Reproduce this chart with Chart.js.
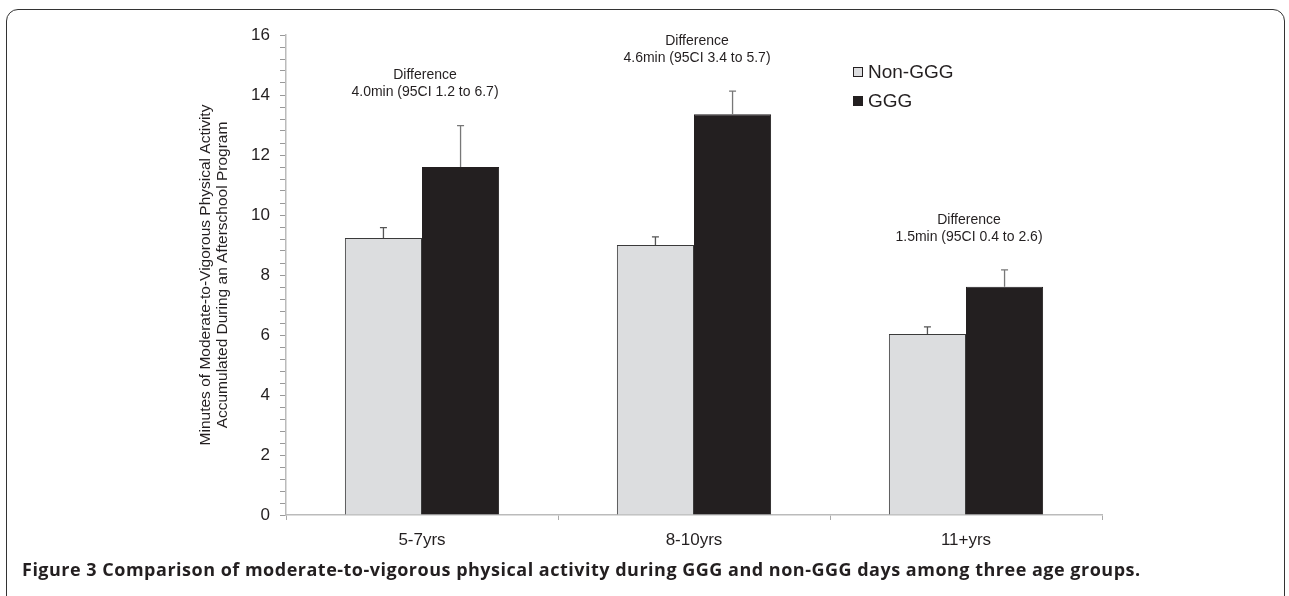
<!DOCTYPE html>
<html>
<head>
<meta charset="utf-8">
<script src="https://cdn.jsdelivr.net/npm/chart.js@4.4.0/dist/chart.umd.min.js"></script>
<style>
  html, body { margin: 0; padding: 0; background: #fff; }
  #wrap { position: relative; width: 1289px; height: 596px; overflow: hidden; }
  #frame { position: absolute; left: 6px; top: 9px; width: 1279px; height: 600px;
           border: 1.5px solid #333; border-radius: 12px; box-sizing: border-box; }
  #chart { position: absolute; left: 0; top: 0; }
  #caption { position: absolute; left: 22px; top: 557px; font-family: "Open Sans", sans-serif;
             font-weight: bold; font-size: 18px; letter-spacing: 0.5px; color: #231f20; white-space: nowrap; }
</style>
</head>
<body>
<div id="wrap">
  <div id="frame"></div>
  <canvas id="chart" width="1289" height="596"></canvas>
  <div id="caption">Figure 3 Comparison of moderate-to-vigorous physical activity during GGG and non-GGG days among three age groups.</div>
</div>
<script>
const categories = ["5-7yrs", "8-10yrs", "11+yrs"];
const nonGGG = [9.23, 9.0, 6.03];
const nonGGGErr = [0.35, 0.27, 0.24];
const ggg = [11.6, 13.36, 7.61];
const gggErr = [1.38, 0.77, 0.56];
const diffLabels = [
  ["Difference", "4.0min (95CI 1.2 to 6.7)"],
  ["Difference", "4.6min (95CI 3.4 to 5.7)"],
  ["Difference", "1.5min (95CI 0.4 to 2.6)"]
];
const yTitle = ["Minutes of Moderate-to-Vigorous Physical Activity", "Accumulated During an Afterschool Program"];
const legendLabels = ["Non-GGG", "GGG"];

const FONT = "'Liberation Sans', Arial, sans-serif";

const errorBars = {
  id: 'errorBars',
  afterDatasetsDraw(chart) {
    const ctx = chart.ctx;
    const y = chart.scales.y;
    const errs = [nonGGGErr, gggErr];
    const colors = ['#555', '#777'];
    chart.data.datasets.forEach((ds, i) => {
      const meta = chart.getDatasetMeta(i);
      meta.data.forEach((bar, j) => {
        const top = y.getPixelForValue(ds.data[j] + errs[i][j]);
        ctx.save();
        ctx.strokeStyle = colors[i];
        ctx.lineWidth = 1.3;
        ctx.beginPath();
        ctx.moveTo(bar.x, bar.y);
        ctx.lineTo(bar.x, top);
        ctx.moveTo(bar.x - 3.5, top);
        ctx.lineTo(bar.x + 3.5, top);
        ctx.stroke();
        ctx.restore();
      });
    });
  }
};

const annotations = {
  id: 'annotations',
  afterDraw(chart) {
    const ctx = chart.ctx;
    const x = chart.scales.x, y = chart.scales.y;
    ctx.save();
    ctx.font = "14px " + FONT;
    ctx.fillStyle = '#231f20';
    ctx.textAlign = 'center';
    ctx.textBaseline = 'middle';
    diffLabels.forEach((lines, j) => {
      const maxTop = Math.max(nonGGG[j] + nonGGGErr[j], ggg[j] + gggErr[j]);
      const py = y.getPixelForValue(maxTop);
      const px = x.getPixelForValue(j) + 3;
      ctx.fillText(lines[1], px, py - 33);
      ctx.fillText(lines[0], px, py - 50);
    });
    // legend
    const lx = 853, ly = [72, 101];
    const fills = ['#dcdddf', '#231f20'];
    ctx.textAlign = 'left';
    ctx.font = "19px " + FONT;
    legendLabels.forEach((t, i) => {
      ctx.fillStyle = fills[i];
      ctx.fillRect(lx, ly[i] - 5, 10, 10);
      ctx.strokeStyle = '#231f20';
      ctx.lineWidth = 1;
      ctx.strokeRect(lx + 0.5, ly[i] - 4.5, 9, 9);
      ctx.fillStyle = '#231f20';
      ctx.fillText(t, lx + 15, ly[i] + 1);
    });
    ctx.restore();
  }
};

new Chart(document.getElementById('chart'), {
  type: 'bar',
  data: {
    labels: categories,
    datasets: [
      { label: legendLabels[0], data: nonGGG, backgroundColor: '#dcdddf', borderColor: '#3a3a3a', borderWidth: 1 },
      { label: legendLabels[1], data: ggg, backgroundColor: '#231f20', borderColor: '#231f20', borderWidth: 1 }
    ]
  },
  plugins: [errorBars, annotations],
  options: {
    responsive: false,
    animation: false,
    devicePixelRatio: 1,
    layout: { padding: { left: 0, top: 35, right: 187, bottom: 40 } },
    plugins: { legend: { display: false }, tooltip: { enabled: false } },
    datasets: { bar: { categoryPercentage: 0.567, barPercentage: 1.0 } },
    scales: {
      x: {
        afterFit(s) { s.height = 41; },
        grid: { display: true, drawOnChartArea: false, offset: true, color: '#aaa', tickLength: 5 },
        border: { color: '#bbb', width: 1.5 },
        ticks: { color: '#231f20', font: { family: FONT, size: 17 }, padding: 10 }
      },
      y: {
        min: 0, max: 16,
        afterFit(s) { s.width = 286; },
        grid: { display: true, drawOnChartArea: false, color: '#999', tickLength: 6 },
        border: { color: '#bbb', width: 1.5 },
        ticks: {
          stepSize: 0.4,
          autoSkip: false,
          color: '#231f20',
          font: { family: FONT, size: 17 },
          padding: 10,
          callback(v) {
            const h = v / 2;
            return Math.abs(h - Math.round(h)) < 1e-6 ? String(Math.round(v)) : '';
          }
        },
        title: {
          display: true,
          text: yTitle,
          color: '#231f20',
          font: { family: FONT, size: 15.5, lineHeight: 1.05 },
          padding: { top: 198, bottom: 0 }
        }
      }
    }
  }
});
</script>
</body>
</html>
